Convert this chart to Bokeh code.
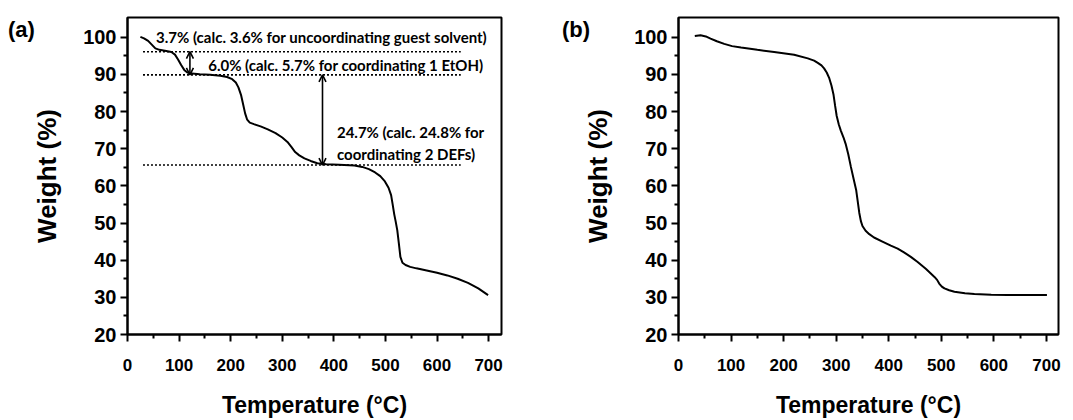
from bokeh.plotting import figure
from bokeh.layouts import row
from bokeh.models import Range1d, Label, Arrow, OpenHead, FixedTicker, Div
from bokeh.embed import file_html
from bokeh.resources import INLINE

# ---- data (a) ----
temp_a = [25, 32, 40, 47, 54, 62, 75, 85, 92, 98, 104, 110, 116, 125, 140, 160, 180, 193, 203,
          210, 215, 220, 224, 228, 232, 237, 245, 258, 272, 287, 300, 310, 318, 325, 333, 343,
          355, 368, 385, 410, 440, 455, 468, 480, 490, 499, 506, 511, 514, 517, 520, 523, 526,
          529, 533, 539, 548, 560, 580, 600, 620, 640, 660, 680, 699]
weight_a = [100.1, 99.7, 99.0, 98.0, 97.0, 96.6, 96.3, 96.0, 95.3, 94.0, 92.5, 91.2, 90.5, 90.2,
            90.0, 89.9, 89.6, 89.3, 88.7, 87.8, 86.5, 84.5, 82.0, 79.5, 77.8, 77.0, 76.6, 76.0,
            75.2, 74.2, 73.0, 71.8, 70.4, 69.1, 68.2, 67.4, 66.7, 66.1, 65.8, 65.7, 65.5, 65.1,
            64.5, 63.6, 62.6, 61.2, 59.5, 57.5, 55.0, 52.4, 50.3, 48.0, 44.5, 40.9, 39.3, 38.7,
            38.2, 37.8, 37.2, 36.6, 35.9, 35.0, 33.9, 32.4, 30.6]
levels_a = [96.1, 89.85, 65.6]
level_x = [30, 646]
arrow_x = [121, 378]
notes_a = ["3.7% (calc. 3.6% for uncoordinating guest solvent)",
           "6.0% (calc. 5.7% for coordinating 1 EtOH)",
           "24.7% (calc. 24.8% for",
           "coordinating 2 DEFs)"]

# ---- data (b) ----
temp_b = [31, 42, 52, 61, 73, 87, 102, 119, 150, 182, 220, 246, 258, 265, 272, 277, 282, 287, 291,
          295, 298, 301, 305, 309, 314, 318, 323, 328, 333, 338, 341, 344, 347, 350, 356, 363, 372,
          388, 404, 417, 429, 442, 455, 471, 487, 492, 496, 501, 506, 515, 525, 545, 563, 595, 626,
          660, 701]
weight_b = [100.3, 100.5, 100.2, 99.6, 98.9, 98.2, 97.6, 97.2, 96.6, 96.0, 95.3, 94.3, 93.7, 93.1,
            92.4, 91.6, 90.5, 88.9, 87.0, 84.5, 81.5, 78.8, 76.5, 74.8, 73.0, 71.3, 68.5, 65.1, 62.0,
            58.9, 55.8, 52.7, 50.5, 49.2, 47.9, 47.0, 46.1, 45.0, 43.9, 43.1, 42.1, 40.9, 39.5, 37.6,
            35.5, 34.7, 33.7, 32.9, 32.4, 31.9, 31.5, 31.1, 30.9, 30.7, 30.6, 30.6, 30.6]

x_ticks = [0, 100, 200, 300, 400, 500, 600, 700]
y_ticks = [20, 30, 40, 50, 60, 70, 80, 90, 100]
panel_tags = ["(a)", "(b)"]

AX_FONT = "Liberation Sans"
NOTE_FONT = "Lato"


def make_fig(width, left, right, top, bottom, xmax):
    p = figure(width=width, height=420, output_backend="svg", toolbar_location=None,
               x_range=Range1d(0, xmax), y_range=Range1d(20, 105.3),
               min_border_left=left, min_border_right=right,
               min_border_top=top, min_border_bottom=bottom)
    p.grid.visible = False
    p.outline_line_color = "black"
    p.outline_line_width = 2
    p.background_fill_color = "white"
    p.border_fill_color = "white"
    for ax, ticks, minor in ((p.xaxis[0], x_ticks, [50 + 100 * i for i in range(7)]),
                             (p.yaxis[0], y_ticks, [25 + 10 * i for i in range(8)])):
        ax.ticker = FixedTicker(ticks=ticks, minor_ticks=minor)
        ax.axis_line_width = 2
        ax.axis_line_color = "black"
        ax.major_tick_line_width = 2
        ax.minor_tick_line_width = 2
        ax.major_tick_in = 0
        ax.major_tick_out = 7
        ax.minor_tick_in = 0
        ax.minor_tick_out = 4
        ax.major_label_text_font = AX_FONT
        ax.major_label_text_font_style = "bold"
        ax.major_label_text_color = "black"
        ax.axis_label_text_font = AX_FONT
        ax.axis_label_text_font_style = "bold"
        ax.axis_label_text_color = "black"
    p.xaxis.major_label_text_font_size = "17px"
    p.yaxis.major_label_text_font_size = "20px"
    p.xaxis.axis_label_text_font_size = "23px"
    p.yaxis.axis_label_text_font_size = "26px"
    p.xaxis.major_label_standoff = 17
    p.yaxis.major_label_standoff = 4
    p.xaxis.axis_label_standoff = 18
    p.yaxis.axis_label_standoff = 18
    p.xaxis.axis_label = "Temperature (°C)"
    p.yaxis.axis_label = "Weight (%)"
    return p


def make_tag(text, left):
    # zero-size HTML text overlay for the panel tag
    return Div(text=text, width=0, height=0, margin=0,
               styles={"position": "relative", "left": f"{left}px", "top": "14px",
                       "z-index": "10", "overflow": "visible", "white-space": "nowrap",
                       "font-family": "Liberation Sans", "font-weight": "bold",
                       "font-size": "22px", "color": "black"})


pa = make_fig(540, 127, 39, 17, 81, 725)
pa.line(temp_a, weight_a, line_color="black", line_width=2)
for lv in levels_a:
    pa.line(level_x, [lv, lv], line_color="black", line_width=1.6, line_dash="2 2")
for ax_, (y0, y1) in zip(arrow_x, [(levels_a[0], levels_a[1]), (levels_a[1], levels_a[2])]):
    pa.add_layout(Arrow(x_start=ax_, y_start=y0, x_end=ax_, y_end=y1,
                        line_color="black", line_width=1.6,
                        start=OpenHead(size=7, line_width=1.6, line_color="black"),
                        end=OpenHead(size=7, line_width=1.6, line_color="black")))

note_style = dict(text_font=NOTE_FONT, text_font_style="bold", text_font_size="15px",
                  text_color="black", text_baseline="middle")
pa.add_layout(Label(x=697, y=100.1, text=notes_a[0], text_align="right", **note_style))
pa.add_layout(Label(x=690, y=92.6, text=notes_a[1], text_align="right", **note_style))
pa.add_layout(Label(x=406, y=74.5, text=notes_a[2], text_align="left", **note_style))
pa.add_layout(Label(x=406, y=68.7, text=notes_a[3], text_align="left", **note_style))

pb = make_fig(533, 138, 15, 15, 83, 723)
pb.line(temp_b, weight_b, line_color="black", line_width=2)

layout = row(make_tag(panel_tags[0], 8), pa, make_tag(panel_tags[1], 22), pb)
open("out.html", "w").write(file_html(layout, INLINE))
